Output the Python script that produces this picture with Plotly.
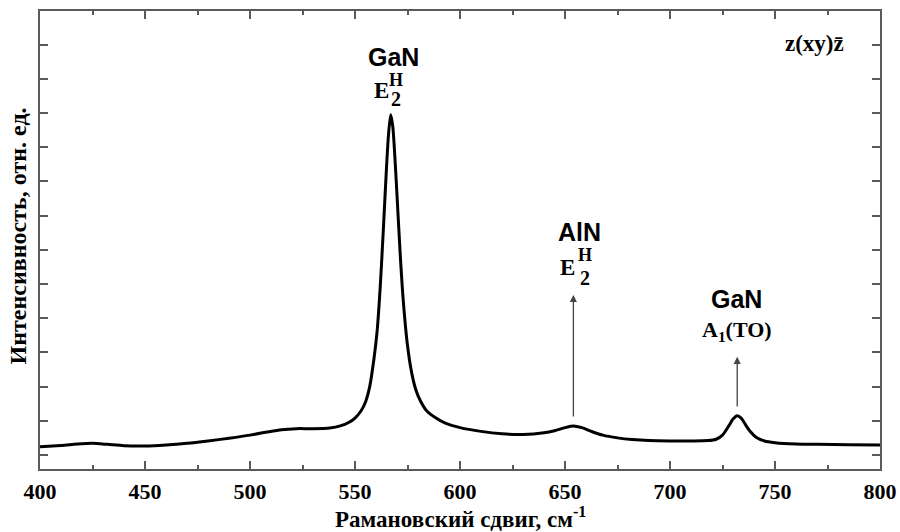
import plotly.graph_objects as go

# Raman spectrum, z(xy)z̄ geometry
shift_cm = [400, 410, 420, 425, 432, 440, 450, 460, 470, 480, 490, 500, 508, 515,
            522, 530, 538, 543, 547, 550, 553, 555, 557, 559, 560.5, 562, 563.5,
            565, 566, 567, 568, 569, 570, 571.5, 573, 575, 577, 579, 581, 584, 588,
            593, 600, 610, 620, 630, 640, 645, 650, 654, 658, 663, 668, 675, 682,
            690, 700, 710, 718, 722, 725, 728, 730, 732, 734, 736, 738, 741, 745,
            750, 760, 770, 785, 800]
intensity = [0.24, 0.28, 0.33, 0.34, 0.31, 0.27, 0.26, 0.29, 0.34, 0.41, 0.49, 0.58,
             0.67, 0.74, 0.77, 0.77, 0.79, 0.85, 0.95, 1.08, 1.30, 1.55, 2.0, 2.8,
             3.6, 4.9, 6.6, 8.4, 9.4, 9.95, 9.6, 8.7, 7.6, 5.9, 4.5, 3.2, 2.4, 1.9,
             1.6, 1.3, 1.1, 0.93, 0.80, 0.69, 0.62, 0.60, 0.65, 0.71, 0.80, 0.85,
             0.80, 0.68, 0.58, 0.50, 0.45, 0.42, 0.41, 0.41, 0.42, 0.46, 0.58, 0.85,
             1.05, 1.15, 1.07, 0.88, 0.70, 0.52, 0.41, 0.36, 0.32, 0.31, 0.30, 0.29]

# Arrow positions for the weaker modes (x, tail y, head y)
aln_arrow = (654, 1.08, 4.68)
gan_a1_arrow = (732, 1.37, 2.87)

x_ticks = [400, 450, 500, 550, 600, 650, 700, 750, 800]
x_labels = ["400", "450", "500", "550", "600", "650", "700", "750", "800"]

SERIF = "Liberation Serif, Times New Roman, serif"
SANS = "Liberation Sans, Arial, sans-serif"
FRAME = "#5a5a5a"

fig = go.Figure()
fig.add_trace(go.Scatter(
    x=shift_cm, y=intensity, mode="lines",
    line=dict(color="black", width=3, shape="spline", smoothing=0.7),
    showlegend=False, hoverinfo="skip",
))

def label(x, y, text, size, family, xanchor="center"):
    fig.add_annotation(x=x, y=y, xref="x", yref="y", text=text, showarrow=False,
                       xanchor=xanchor, yanchor="middle",
                       font=dict(family=family, size=size, color="black", weight="bold"))

# GaN E2(high)
label(568.1, 11.63, "GaN", 25, SANS)
label(562.4, 10.67, "E", 23, SERIF)
label(569.3, 10.95, "H", 18, SERIF)
label(569.3, 10.40, "2", 20, SERIF)

# AlN E2(high)
label(657.1, 6.52, "AlN", 25, SANS)
label(651.4, 5.47, "E", 23, SERIF)
label(659.5, 5.84, "H", 18, SERIF)
label(659.5, 5.17, "2", 20, SERIF)

# GaN A1(TO)
label(731.9, 4.56, "GaN", 25, SANS)
label(731.9, 3.62, "A<sub>1</sub>(TO)", 22, SERIF)

# scattering geometry
label(768.6, 12.02, "z(xy)z\u0304", 23, SERIF)

for ax_x, tail_y, head_y in (aln_arrow, gan_a1_arrow):
    fig.add_annotation(x=ax_x, y=head_y, ax=ax_x, ay=tail_y, xref="x", yref="y",
                       axref="x", ayref="y", text="", showarrow=True,
                       arrowhead=2, arrowsize=1.1, arrowwidth=1.3, arrowcolor="#444")

# axis titles
fig.add_annotation(x=0.5, y=-0.106, xref="paper", yref="paper",
                   text="Рамановский сдвиг, см<sup>-1</sup>", showarrow=False,
                   xanchor="center", yanchor="middle",
                   font=dict(family=SERIF, size=23, color="black", weight="bold"))
fig.add_annotation(x=-0.0262, y=0.51, xref="paper", yref="paper",
                   text="Интенсивность, отн. ед.", showarrow=False, textangle=-90,
                   xanchor="center", yanchor="middle",
                   font=dict(family=SERIF, size=24, color="black", weight="bold"))

fig.update_layout(
    width=900, height=532,
    margin=dict(l=40, r=20, t=11, b=63),
    paper_bgcolor="white", plot_bgcolor="white",
    font=dict(family=SERIF, color="black"),
)
fig.update_xaxes(
    range=[400, 800], tickvals=x_ticks, ticktext=x_labels, automargin=False,
    ticks="inside", ticklen=8, tickwidth=1.5, tickcolor=FRAME,
    minor=dict(dtick=25, ticks="inside", ticklen=4, tickwidth=1.5, tickcolor=FRAME),
    showline=True, linecolor=FRAME, linewidth=2, mirror="ticks",
    showgrid=False, zeroline=False,
    tickfont=dict(family=SERIF, size=22, color="black", weight="bold"),
    ticklabelstandoff=2,
)
fig.update_yaxes(
    range=[-0.41, 12.98], tick0=0, dtick=1, showticklabels=False, automargin=False,
    ticks="inside", ticklen=8, tickwidth=1.5, tickcolor=FRAME,
    showline=True, linecolor=FRAME, linewidth=2, mirror="ticks",
    showgrid=False, zeroline=False,
)

fig.write_html("out.html")
